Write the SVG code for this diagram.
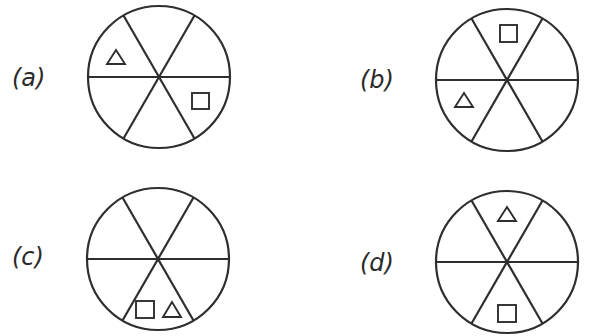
<svg xmlns="http://www.w3.org/2000/svg" width="603" height="336" viewBox="0 0 603 336">
<style>
.c{fill:none;stroke:#2e2e2e;stroke-width:2.2}
.s{fill:none;stroke:#2e2e2e;stroke-width:1.9}
.l{font-family:"DejaVu Sans",sans-serif;font-style:italic;font-size:24px;fill:#2a2a2a}
</style>
<defs>
<g id="wheel">
<circle class="c" cx="0" cy="0" r="71"/>
<line class="c" x1="-71" y1="0" x2="71" y2="0"/>
<line class="c" x1="-35.5" y1="-61.5" x2="35.5" y2="61.5"/>
<line class="c" x1="35.5" y1="-61.5" x2="-35.5" y2="61.5"/>
</g>
</defs>
<rect width="603" height="336" fill="#ffffff"/>
<g id="node-a">
<text class="l" x="12" y="86">(a)</text>
<use href="#wheel" x="159" y="77"/>
<polygon class="s" points="116,50 107,64 125,64"/>
<rect class="s" x="192" y="93" width="17" height="16"/>
</g>
<g id="node-b">
<text class="l" x="360" y="88">(b)</text>
<use href="#wheel" x="507" y="80"/>
<rect class="s" x="500" y="25" width="17" height="17"/>
<polygon class="s" points="464,93 455,107 473,107"/>
</g>
<g id="node-c">
<text class="l" x="12" y="265">(c)</text>
<use href="#wheel" x="158" y="259"/>
<rect class="s" x="136" y="301" width="18" height="17"/>
<polygon class="s" points="172,302 163,317 181,317"/>
</g>
<g id="node-d">
<text class="l" x="360" y="271">(d)</text>
<use href="#wheel" x="507" y="262"/>
<polygon class="s" points="507,207 498,221 516,221"/>
<rect class="s" x="498" y="305" width="18" height="17"/>
</g>
<g id="connectors"></g>
</svg>
